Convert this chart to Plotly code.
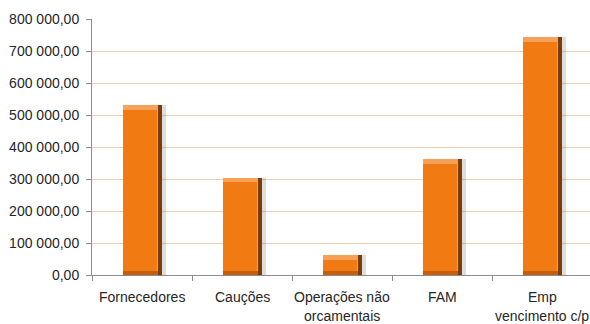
import plotly.graph_objects as go

# Categories (label lines) and values
categories = ["Fornecedores", "Cauções", "Operações não<br>orcamentais", "FAM", "Emp<br>vencimento c/p"]
values = [531000, 304000, 62000, 362000, 743000]
tick_values = [0, 100000, 200000, 300000, 400000, 500000, 600000, 700000, 800000]
tick_labels = ["0,00", "100 000,00", "200 000,00", "300 000,00", "400 000,00",
               "500 000,00", "600 000,00", "700 000,00", "800 000,00"]

x = list(range(len(categories)))
bevel = 14000   # depth of the top/bottom bevel, in value units
W = 0.39        # bar width in category units
OFF = -0.195
RIGHT = 0.035   # dark right-hand side of the bar

fig = go.Figure()

# soft drop shadow
fig.add_trace(go.Bar(x=x, y=values, width=W + 0.035, offset=OFF + 0.01,
                     marker=dict(color="rgba(0,0,0,0.13)", line=dict(width=0))))
# dark outer body (right side)
fig.add_trace(go.Bar(x=x, y=values, width=W, offset=OFF,
                     marker=dict(color="#7C3C07", line=dict(width=0))))
# bottom bevel
fig.add_trace(go.Bar(x=x, y=values, width=W - RIGHT, offset=OFF,
                     marker=dict(color="#C2600E", line=dict(width=0))))
# top bevel highlight
fig.add_trace(go.Bar(x=x, y=[v - bevel for v in values], base=[bevel] * len(values),
                     width=W - RIGHT, offset=OFF,
                     marker=dict(color="#F7A158", line=dict(width=0))))
# main face
fig.add_trace(go.Bar(x=x, y=[v - 2 * bevel for v in values], base=[bevel] * len(values),
                     width=W - RIGHT - 0.012, offset=OFF + 0.006,
                     marker=dict(color="#F17A12", line=dict(width=0))))

# category labels, one line per annotation
for i, c in enumerate(categories):
    for j, line in enumerate(c.split("<br>")):
        fig.add_annotation(x=i, y=-0.085 - j * 0.075, xref="x", yref="paper",
                           text=line, showarrow=False,
                           font=dict(family="Liberation Sans, Arial", size=14, color="#262626"),
                           xanchor="center", yanchor="middle")

fig.update_layout(
    width=590, height=324,
    margin=dict(l=92, r=0, t=19, b=49),
    paper_bgcolor="white", plot_bgcolor="white",
    barmode="overlay", bargap=0,
    showlegend=False, hovermode=False,
    font=dict(family="Liberation Sans, Arial", size=14, color="#262626"),
)
fig.update_xaxes(
    range=[-0.5, 4.48], tickvals=[-0.5, 0.5, 1.5, 2.5, 3.5, 4.5], showticklabels=False,
    ticks="outside", ticklen=5, tickcolor="#8c8c8c",
    showline=True, linecolor="#8c8c8c", linewidth=1, showgrid=False, zeroline=False,
)
fig.update_yaxes(
    range=[0, 800000], tickvals=tick_values, ticktext=tick_labels,
    ticks="outside", ticklen=5, tickcolor="#8c8c8c", ticklabelstandoff=4,
    showline=True, linecolor="#8c8c8c", linewidth=1,
    showgrid=True, gridcolor="#F0CDB2", gridwidth=1, zeroline=False,
    tickfont=dict(size=14, color="#262626"),
)

fig.write_html("out.html")
